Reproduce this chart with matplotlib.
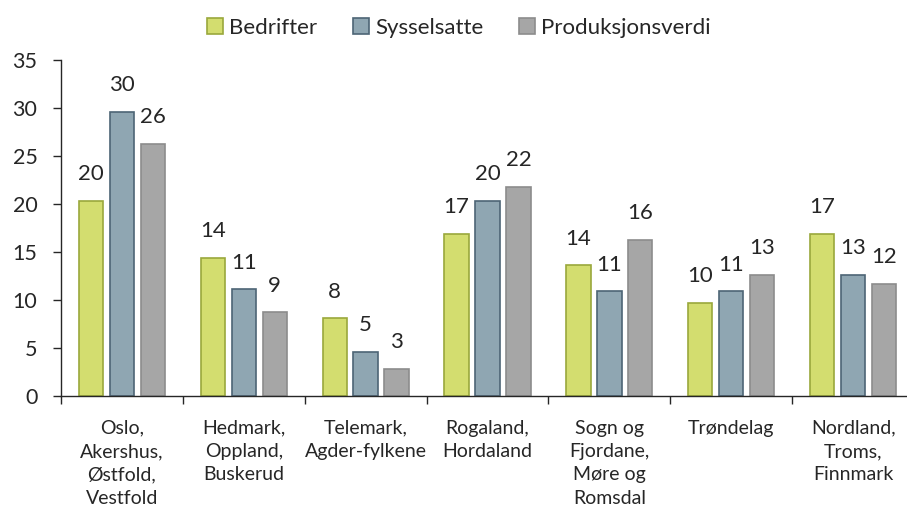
import numpy as np
import matplotlib.pyplot as plt

regioner = ["Oslo,\nAkershus,\nØstfold,\nVestfold",
            "Hedmark,\nOppland,\nBuskerud",
            "Telemark,\nAgder-fylkene",
            "Rogaland,\nHordaland",
            "Sogn og\nFjordane,\nMøre og\nRomsdal",
            "Trøndelag",
            "Nordland,\nTroms,\nFinnmark"]
bedrifter = [20.3, 14.4, 8.1, 16.9, 13.6, 9.7, 16.9]
sysselsatte = [29.6, 11.1, 4.6, 20.3, 10.9, 10.9, 12.6]
produksjonsverdi = [26.3, 8.7, 2.8, 21.8, 16.3, 12.6, 11.7]

serier = ["Bedrifter", "Sysselsatte", "Produksjonsverdi"]
farger = ["#d3dd6f", "#8fa6b2", "#a6a6a6"]
kanter = ["#9aa83c", "#4d6575", "#8c8c8c"]
tekstfarge = "#262626"

plt.rcParams['font.family'] = ['Lato', 'DejaVu Sans']

fig = plt.figure(figsize=(9.07, 5.11), dpi=100)
ax = fig.add_axes([61/907, 115/511, 853/907, 336/511])

x = np.arange(len(regioner))
bredde = 0.2
avstand = 0.254
for i, verdier in enumerate([bedrifter, sysselsatte, produksjonsverdi]):
    pos = x + (i - 1) * avstand
    ax.bar(pos, verdier, width=bredde, color=farger[i], edgecolor=kanter[i],
           linewidth=1.2, label=serier[i])
    for px, v in zip(pos, verdier):
        ax.annotate("%.0f" % v, (px, v), xytext=(0, 12), textcoords="offset points",
                    ha="center", va="bottom", fontsize=16, color=tekstfarge)

ax.set_xlim(-0.5, 6.5)
ax.set_ylim(0, 35)
ax.set_yticks(range(0, 36, 5))
ax.tick_params(axis="y", direction="out", length=6, width=1, labelsize=15.5,
               colors=tekstfarge, pad=11)

ax.set_xticks(x)
ax.set_xticklabels(regioner, fontsize=14, color=tekstfarge, linespacing=1.45, va="top")
ax.set_xticks(np.arange(-0.5, 7, 1), minor=True)
ax.tick_params(axis="x", which="major", length=0, pad=17)
ax.tick_params(axis="x", which="minor", direction="out", length=5.5, width=1, color=tekstfarge)

for s in ["top", "right"]:
    ax.spines[s].set_visible(False)
for s in ["left", "bottom"]:
    ax.spines[s].set_color(tekstfarge)
    ax.spines[s].set_linewidth(1)

fig.legend(loc="center", bbox_to_anchor=(459/907, 1 - 28/511), ncol=3, frameon=False,
           fontsize=16, handlelength=0.7, handleheight=0.7, handletextpad=0.3,
           columnspacing=1.6, labelcolor=tekstfarge)

fig.savefig("out.png", dpi=100)
